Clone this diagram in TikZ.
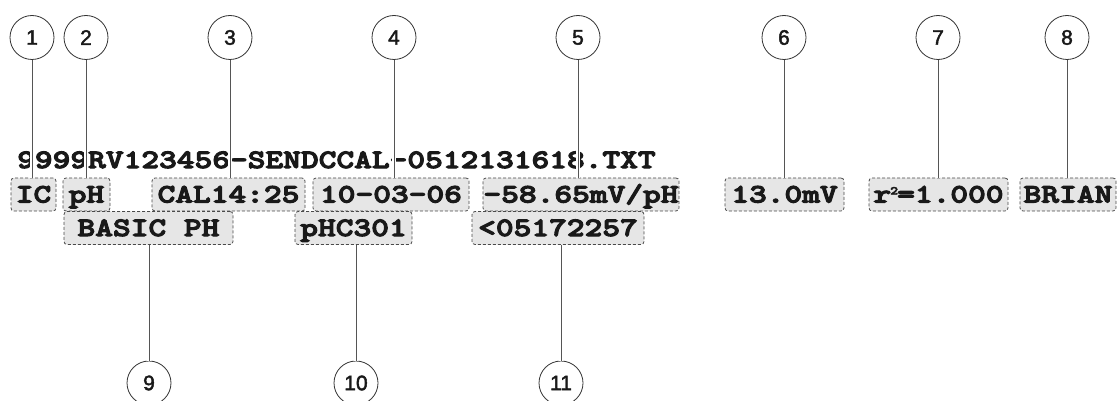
\documentclass[tikz,border=0pt]{standalone}
\usepackage{fontspec}
\newfontfamily\cour[Extension=.otf, UprightFont=*-bold, FakeStretch=1.27, FakeBold=4]{lmmonolt10}
\newfontfamily\arialf[FakeBold=2]{Liberation Sans}
\definecolor{boxfill}{HTML}{E6E6E6}
\definecolor{boxline}{HTML}{4A4A4A}
\definecolor{leadline}{HTML}{555555}
\definecolor{circline}{HTML}{333333}
\tikzset{
  mono/.style={font=\cour\fontsize{26.6}{30}\selectfont, text=black!90},
  valbox/.style={mono, draw=boxline, fill=boxfill, dashed, dash pattern=on 3pt off 2pt,
    line width=0.8pt, rounded corners=3pt, inner sep=0pt, minimum height=33pt,
    text height=16pt, text depth=0pt},
  callout/.style={circle, draw=circline, line width=0.8pt, minimum size=44pt, inner sep=0pt,
    font=\arialf\fontsize{21}{24}\selectfont, text=black!90, fill=white},
  lead/.style={draw=leadline, line width=0.9pt, preaction={draw=white, line width=4pt}}
}
\begin{document}
\begin{tikzpicture}[x=1pt,y=-1pt]
\useasboundingbox (0,0) rectangle (1117,401);
% file name row
\node[mono, anchor=base west, inner sep=0pt] (fname) at (17,168) {9999RV123456-SENDCCAL-0512131618.TXT};
% second row boxes
\node[valbox, minimum width=45pt]  (b1) at (33.5,194.5) {IC};
\node[valbox, minimum width=47pt]  (b2) at (86.5,194.5) {pH};
\node[valbox, minimum width=153pt] (b3) at (228.5,194.5) {CAL14:25};
\node[valbox, minimum width=156pt] (b4) at (391,194.5) {10-03-06};
\node[valbox, minimum width=196pt] (b5) at (581,194.5) {-58.65mV/pH};
\node[valbox, minimum width=119pt] (b6) at (784.5,194.5) {13.0mV};
\node[valbox, minimum width=139pt] (b7) at (938.5,194.5) {r\kern-1pt\raisebox{8pt}{\fontsize{12}{12}\selectfont 2}\kern-1pt=1.000};
\node[valbox, minimum width=96pt]  (b8) at (1068,194.5) {BRIAN};
% third row boxes
\node[valbox, minimum width=169pt] (b9)  at (148.5,228) {BASIC PH~};
\node[valbox, minimum width=117pt] (b10) at (353.5,228) {pHC301};
\node[valbox, minimum width=172pt] (b11) at (558,228) {<05172257};
% top callouts
\node[callout] (c1) at (32,37.5) {1};
\node[callout] (c2) at (86,37.5) {2};
\node[callout] (c3) at (230,37.5) {3};
\node[callout] (c4) at (394,37.5) {4};
\node[callout] (c5) at (578,37.5) {5};
\node[callout] (c6) at (784,37.5) {6};
\node[callout] (c7) at (938,37.5) {7};
\node[callout] (c8) at (1067,37.5) {8};
% bottom callouts
\node[callout] (c9)  at (149,383) {9};
\node[callout] (c10) at (356,383) {10};
\node[callout] (c11) at (561,383) {11};
% leader lines
\foreach \i in {1,...,8}{
  \draw[lead] (c\i.south) -- (c\i.south |- b\i.north);
}
\foreach \i in {9,10,11}{
  \draw[lead] (c\i.north |- b\i.south) -- (c\i.north);
}
\end{tikzpicture}
\end{document}
